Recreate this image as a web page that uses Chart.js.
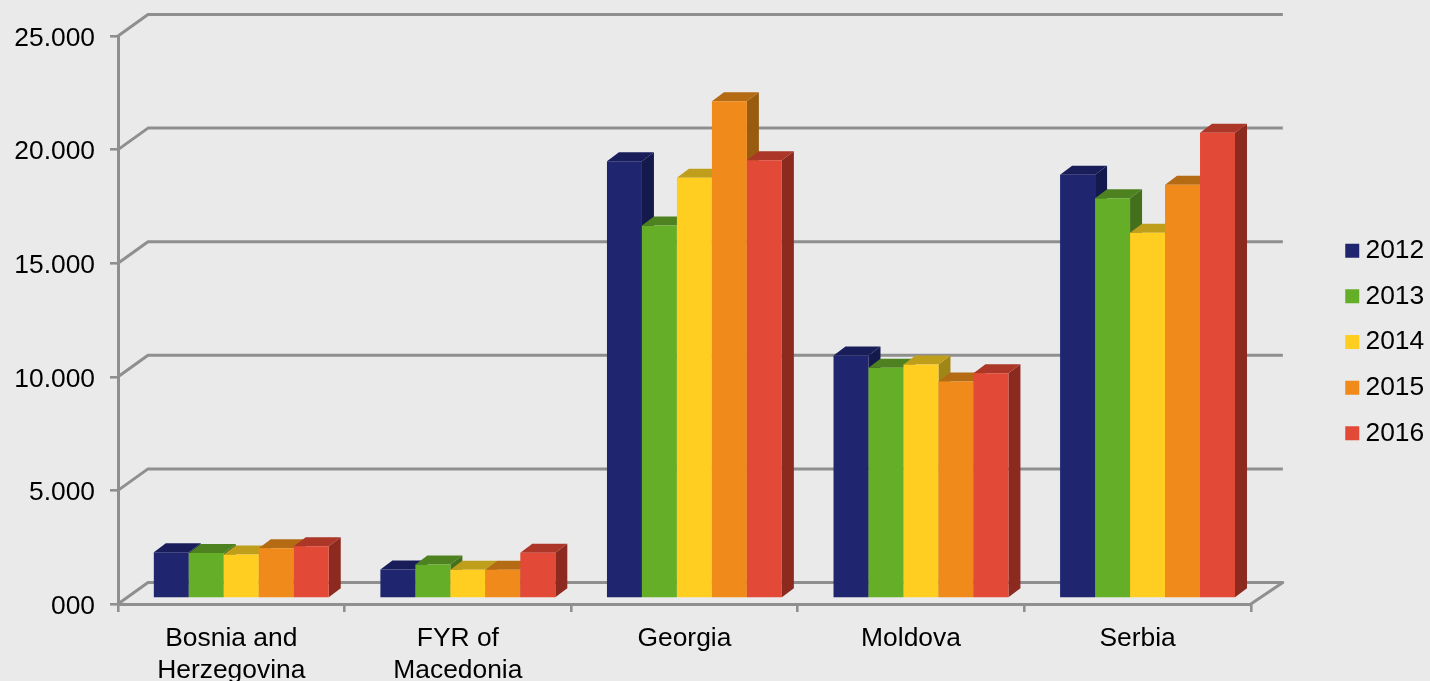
<!DOCTYPE html>
<html>
<head>
<meta charset="utf-8">
<style>
html,body{margin:0;padding:0;background:#eaeaea;overflow:hidden}
#wrap{position:absolute;left:0;top:0;width:1430px;height:681px}
</style>
<script src="https://cdn.jsdelivr.net/npm/chart.js@4/dist/chart.umd.min.js"></script>
</head>
<body>
<div id="wrap"><canvas id="c" width="1430" height="681"></canvas></div>
<script>
const categories = [["Bosnia and","Herzegovina"],["FYR of","Macedonia"],"Georgia","Moldova","Serbia"];
const years = ["2012","2013","2014","2015","2016"];
const v2012 = [2040,1276,19245,10694,18647];
const v2013 = [2000,1496,16415,10153,17617];
const v2014 = [1940,1263,18515,10298,16094];
const v2015 = [2215,1263,21890,9550,18207];
const v2016 = [2300,2011,19290,9915,20495];
const yTickValues = [0,5000,10000,15000,20000,25000];
const yTickLabels = ["000","5.000","10.000","15.000","20.000","25.000"];
const frontColors = ["#1f256e","#65ae27","#ffce20","#ef8a1b","#e24936"];
const topColors   = ["#191e5a","#4e8220","#bf9e1b","#b56a14","#ac3628"];
const sideColors  = ["#151a4c","#44701c","#a08517","#985b0f","#8c2a20"];
const gridColor = "#8f8f8f";
const FONT = {family:"'Liberation Sans', Arial, sans-serif", size:26.4};

const floorDX = 30, floorDY = 21.5;     // wall depth
const barDX = 10, barDY = 5.5;          // bars sit inside the floor
const depthX = 12, depthY = 9;          // bar depth

function drawFaces(chart,i){
  const {ctx} = chart;
  chart.getDatasetMeta(i).data.forEach(b=>{
    const x0 = b.x - b.width/2, x1 = b.x + b.width/2, t = b.y, base = b.base;
    ctx.fillStyle = sideColors[i];
    ctx.beginPath();
    ctx.moveTo(x1,t);ctx.lineTo(x1+depthX,t-depthY);ctx.lineTo(x1+depthX,base-depthY);ctx.lineTo(x1,base);
    ctx.closePath();ctx.fill();
    ctx.fillStyle = topColors[i];
    ctx.beginPath();
    ctx.moveTo(x0,t);ctx.lineTo(x0+depthX,t-depthY);ctx.lineTo(x1+depthX,t-depthY);ctx.lineTo(x1,t);
    ctx.closePath();ctx.fill();
  });
}

const threeD = {
  id:'threeD',
  afterLayout(chart){
    const lg = chart.legend;
    const w = lg.width;
    lg.left = 1333; lg.right = 1333 + w;
    lg.top -= 16.5; lg.bottom -= 16.5;
  },
  beforeDatasetsDraw(chart){
    const {ctx, scales:{x,y}} = chart;
    const L = x.left, R = x.right;
    ctx.save();
    ctx.strokeStyle = gridColor; ctx.lineWidth = 3; ctx.lineJoin='round';
    yTickValues.forEach(v=>{
      const p = y.getPixelForValue(v);
      ctx.beginPath();
      ctx.moveTo(L,p);
      ctx.lineTo(L+floorDX,p-floorDY);
      ctx.lineTo(R+floorDX+2,p-floorDY);
      if(v===0) ctx.lineTo(R,p);
      ctx.stroke();
    });
    ctx.restore();
    // painter's order: 2012 first, 2016 last, each with its own top and side
    ctx.save();
    ctx.translate(barDX,-barDY);
    years.forEach((yr,i)=>{
      drawFaces(chart,i);
      chart.getDatasetMeta(i).controller.draw();
    });
    ctx.restore();
    return false;
  }
};

const bgPlugin = {
  id:'bg',
  beforeDraw(chart){
    const {ctx,width,height} = chart;
    ctx.save();ctx.fillStyle='#eaeaea';ctx.fillRect(0,0,width,height);ctx.restore();
  }
};

const seriesValues = [v2012,v2013,v2014,v2015,v2016];
new Chart(document.getElementById('c'),{
  type:'bar',
  data:{
    labels:categories,
    datasets:years.map((yr,i)=>({
      label:yr,
      data:seriesValues[i],
      backgroundColor:frontColors[i],
      borderWidth:0,
      clip:false,
      categoryPercentage:0.772,
      barPercentage:1
    }))
  },
  options:{
    responsive:false,
    animation:false,
    layout:{padding:{left:0,right:78,top:36,bottom:0}},
    plugins:{
      title:{display:false},
      tooltip:{enabled:false},
      legend:{
        display:true,
        position:'right',
        labels:{
          usePointStyle:true,
          pointStyle:'rect',
          boxWidth:0.01,
          boxHeight:14,
          padding:19.25,
          color:'#000',
          font:FONT
        }
      }
    },
    scales:{
      x:{
        grid:{display:true,drawOnChartArea:false,drawTicks:true,color:gridColor,lineWidth:2.6,tickLength:8,offset:true},
        border:{display:true,color:gridColor,width:3},
        ticks:{color:'#000',font:FONT,autoSkip:false,maxRotation:0,minRotation:0,padding:11},
        afterFit(s){s.height=77;}
      },
      y:{
        min:0,max:25000,
        afterBuildTicks(s){s.ticks = yTickValues.map(v=>({value:v}));},
        grid:{display:true,drawOnChartArea:false,drawTicks:true,color:gridColor,lineWidth:2.6,tickLength:8},
        border:{display:true,color:gridColor,width:3},
        ticks:{color:'#000',font:FONT,padding:15,labelOffset:2.5,
          callback(v){return yTickLabels[yTickValues.indexOf(v)];}},
        afterFit(s){s.width=118;}
      }
    }
  },
  plugins:[bgPlugin,threeD]
});
</script>
</body>
</html>
